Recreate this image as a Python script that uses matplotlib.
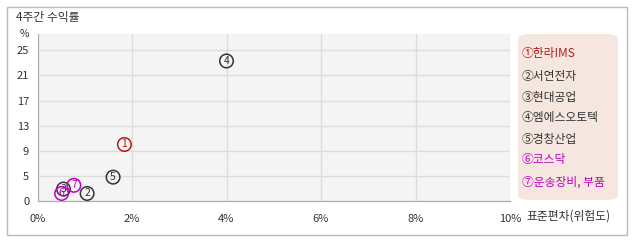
import matplotlib
matplotlib.use("Agg")
import matplotlib.pyplot as plt
from matplotlib.patches import FancyBboxPatch, Rectangle

plt.rcParams['font.family'] = ['Noto Sans CJK KR', 'DejaVu Sans']

# dados
nomes = ["한라IMS", "서연전자", "현대공업", "엠에스오토텍", "경창산업", "코스닥", "운송장비, 부품"]
numeros = ["1", "2", "3", "4", "5", "6", "7"]
circulados = ["①", "②", "③", "④", "⑤", "⑥", "⑦"]
desvio = [1.84, 1.05, 0.55, 4.0, 1.60, 0.51, 0.77]   # 표준편차 (%)
retorno = [10.0, 2.2, 2.9, 23.3, 4.8, 2.2, 3.5]      # 4주간 수익률 (%)
cores = ["#b01c1c", "#333333", "#333333", "#333333", "#333333", "#c000c0", "#c000c0"]

xticks = [0, 2, 4, 6, 8, 10]
yticks = [1, 5, 9, 13, 17, 21, 25]
ylabels = ["0", "5", "9", "13", "17", "21", "25"]

W, H = 638, 242
fig = plt.figure(figsize=(W / 100, H / 100), dpi=100)

# moldura externa
fig.patches.append(Rectangle((7 / W, 1 - 235 / H), 620 / W, 228 / H, transform=fig.transFigure,
                             facecolor="white", edgecolor="#bbbbbb", lw=1, zorder=-1))

ax = fig.add_axes([37.5 / W, 1 - 201 / H, 472.5 / W, 167 / H])
ax.set_facecolor("#f4f4f4")
ax.set_xlim(0, 10)
ax.set_ylim(1, 27.6)
ax.set_xticks(xticks)
ax.set_xticklabels([f"{v}%" for v in xticks])
ax.set_yticks(yticks)
ax.set_yticklabels(ylabels)
ax.grid(True, color="#dcdcdc", lw=1)
ax.set_axisbelow(True)
for s in ["top", "right"]:
    ax.spines[s].set_visible(False)
for s in ["left", "bottom"]:
    ax.spines[s].set_color("#aaaaaa")
ax.tick_params(length=0, labelsize=8, colors="#333333", pad=6)
ax.tick_params(axis="x", pad=9)

ordem = [2, 0, 1, 3, 4, 5, 6]
for i in ordem:
    ax.scatter(desvio[i], retorno[i], s=95, facecolor="none", edgecolor=cores[i], lw=1.1, zorder=3)
    ax.text(desvio[i], retorno[i], numeros[i], color=cores[i], fontsize=7.5,
            ha="center", va="center", zorder=4)

fig.text(16 / W, 1 - 17 / H, "4주간 수익률", fontsize=8.5, color="#333333", va="center")
fig.text(24 / W, 1 - 34 / H, "%", fontsize=7.5, color="#333333", va="center", ha="center")
fig.text(526 / W, 1 - 216 / H, "표준편차(위험도)", fontsize=8.5, color="#333333", va="center")

# legenda
fig.patches.append(FancyBboxPatch((518 / W, 1 - 200 / H), 100 / W, 166 / H,
                                  boxstyle="round,pad=0,rounding_size=0.02",
                                  transform=fig.transFigure, facecolor="#f5e7e0",
                                  edgecolor="none", zorder=1))
ys = [54, 76, 97, 118, 139, 160, 182]
for i in range(len(nomes)):
    fig.text(522 / W, 1 - ys[i] / H, circulados[i] + nomes[i], fontsize=8.5,
             color=cores[i], va="center", zorder=2)

fig.savefig("out.png", dpi=100)
